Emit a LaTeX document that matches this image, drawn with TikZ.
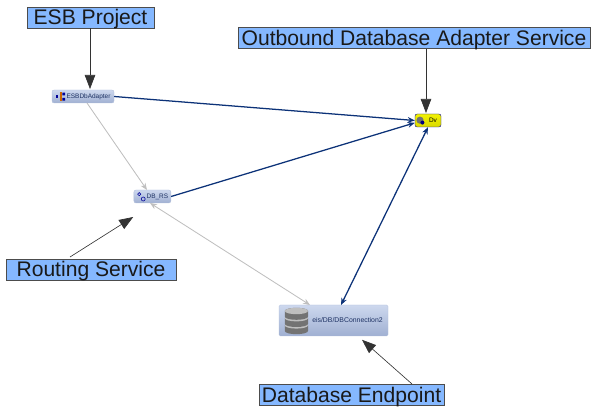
\documentclass[tikz,border=0pt]{standalone}
\usepackage{fontspec}
\setmainfont{Liberation Sans}
\usetikzlibrary{arrows.meta}
\definecolor{calloutblue}{RGB}{133,184,255}
\definecolor{edgeblue}{RGB}{12,50,120}
\definecolor{nodetop}{RGB}{205,216,238}
\definecolor{nodebot}{RGB}{160,176,210}
\definecolor{nodetext}{RGB}{30,50,100}
\tikzset{
callout/.style={draw=black!70, line width=0.5pt, fill=calloutblue, inner sep=0pt, text height=12.6pt, text depth=2.2pt, font=\fontsize{15}{15}\selectfont, text=black!90},
pointer/.style={draw=black!80, line width=0.45pt, -{Triangle[length=10pt,width=7.5pt]}},
service/.style={draw=nodebot!80!white, line width=0.3pt, rounded corners=1.5pt, top color=nodetop, bottom color=nodebot, inner sep=0pt, text=nodetext, font=\fontsize{4.6}{5}\selectfont},
wire/.style={draw=edgeblue, line width=0.9pt, -{Stealth[length=5pt,width=4pt]}},
lightwire/.style={draw=black!25, line width=0.6pt, -{Stealth[length=5pt,width=4pt]}},
}
\begin{document}
\begin{tikzpicture}
    \useasboundingbox (0,0) rectangle (15,10.475);

    \node[service, minimum width=1.55cm, minimum height=0.325cm] (adapter) at (2.075,8.0625) {\hspace{0.275cm}ESBDbAdapter};
    \node[service, minimum width=0.925cm, minimum height=0.325cm] (rs) at (3.81,5.5625) {\hspace{0.25cm}DB\_RS};
    \node[service, minimum width=0.65cm, minimum height=0.325cm, draw=blue!60!black, top color=yellow!95!black, bottom color=yellow!85!black, text=black] (dv) at (10.7,7.4625) {\hspace{0.25cm}Dv};
    \node[service, minimum width=2.725cm, minimum height=0.775cm, rounded corners=1pt, font=\fontsize{4.9}{5}\selectfont] (conn) at (8.3375,2.4625) {\hspace{0.7cm}eis/DB/DBConnection2};

    % small icons
    \fill[blue!60!black] (1.39,8.02) rectangle (1.46,8.09);
    \fill[orange!80!black] (1.49,7.96) rectangle (1.54,8.17);
    \fill[blue!60!black] (1.56,8.09) rectangle (1.63,8.16) (1.56,7.96) rectangle (1.63,8.03);
    \draw[blue!60!black, line width=0.4pt] (3.48,5.62) circle (0.04) (3.58,5.5) circle (0.05);
    \fill[black!55] (10.5,7.47) circle (0.09);
    \fill[blue!50!black] (10.56,7.41) circle (0.05);

    % database icon
    \foreach \y in {2.2,2.38,2.56}{
        \fill[black!55] (7.12,\y) arc[start angle=180,end angle=360,x radius=0.29,y radius=0.08] -- ++(0,0.14) arc[start angle=0,end angle=180,x radius=0.29,y radius=0.08] -- cycle;
        \fill[black!25] (7.41,\y+0.14) ellipse (0.29 and 0.08);
    }

    \node[callout, minimum width=3.175cm] (esb) at (2.2625,10.0375) {ESB Project};
    \node[callout, minimum width=8.8cm] (outbound) at (10.35,9.525) {Outbound Database Adapter Service};
    \node[callout, minimum width=4.25cm] (routing) at (2.275,3.7375) {Routing Service};
    \node[callout, minimum width=4.625cm] (endpoint) at (8.7875,0.6) {Database Endpoint};

    \coordinate (esbtip) at (2.25,8.25);
    \coordinate (outtip) at (10.65,7.65);
    \coordinate (routingstart) at (1.75,4.05);
    \coordinate (routingtip) at (3.33,5.05);
    \coordinate (endstart) at (10.3,0.875);
    \coordinate (endtip) at (9.05,1.98);
    \coordinate (adapterout) at (2.175,7.9);
    \coordinate (rsin) at (3.675,5.725);
    \coordinate (rsout) at (3.75,5.4);
    \coordinate (connin) at (7.75,2.85);
    \coordinate (connup) at (8.525,2.85);

    \draw[pointer] (esb.south -| esbtip) -- (esbtip);
    \draw[pointer] (outbound.south -| outtip) -- (outtip);
    \draw[pointer] (routingstart) -- (routingtip);
    \draw[pointer] (endstart) -- (endtip);

    \draw[wire] (adapter.east) -- (dv.west);
    \draw[wire] (rs.east) -- (dv.190);
    \draw[wire, {Stealth[length=5pt,width=4pt]}-{Stealth[length=5pt,width=4pt]}] (connup) -- (dv.south);
    \draw[lightwire] (adapterout) -- (rsin);
    \draw[lightwire, {Stealth[length=5pt,width=4pt]}-{Stealth[length=5pt,width=4pt]}] (rsout) -- (connin);
\end{tikzpicture}
\end{document}
